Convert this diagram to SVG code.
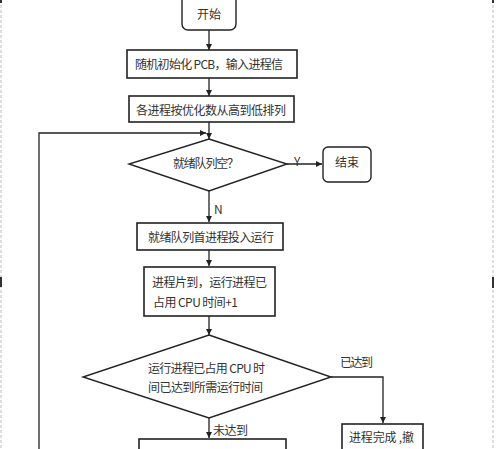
<svg xmlns="http://www.w3.org/2000/svg" width="500" height="449" viewBox="0 0 500 449">
<defs>
<marker id="ah" viewBox="0 0 8 8" refX="8" refY="4" markerWidth="6" markerHeight="6" markerUnits="userSpaceOnUse" orient="auto">
<path d="M0,0 L8,4 L0,8 z" fill="#222"/>
</marker>
<style>
.box{fill:#fff;stroke:#222;stroke-width:1.6}
.rbox{fill:#fff;stroke:#222;stroke-width:1.4}
.dia{fill:#fff;stroke:#222;stroke-width:1.4}
.t{font-family:"Noto Sans CJK SC","Liberation Sans",sans-serif;font-size:12px;fill:#333;text-anchor:middle}
.l{font-family:"Noto Sans CJK SC","Liberation Sans",sans-serif;font-size:12px;fill:#333}
.c{fill:none;stroke:#222;stroke-width:1.3}
.border{stroke:#bbb;stroke-width:1;stroke-dasharray:3 2;fill:none}
</style>
</defs>
<rect width="500" height="449" fill="#fff"/>
<g id="frame">
<line class="border" x1="1" y1="0" x2="1" y2="449"/>
<line class="border" x1="493" y1="0" x2="493" y2="449"/>
<rect x="0" y="0" width="2" height="3" fill="#333"/>
<rect x="0" y="277" width="2" height="10" fill="#333"/>
<rect x="492" y="0" width="2" height="3" fill="#333"/>
<rect x="492" y="277" width="2" height="11" fill="#333"/>
</g>
<g id="connectors">
<line class="c" x1="209" y1="30" x2="209" y2="50" marker-end="url(#ah)"/>
<line class="c" x1="209" y1="78" x2="209" y2="96" marker-end="url(#ah)"/>
<line class="c" x1="209" y1="122" x2="209" y2="139" marker-end="url(#ah)"/>
<polyline class="c" points="39,449 39,133 206,133" marker-end="url(#ah)"/>
<line class="c" x1="287" y1="164" x2="322" y2="164" marker-end="url(#ah)"/>
<line class="c" x1="209" y1="191" x2="209" y2="222" marker-end="url(#ah)"/>
<line class="c" x1="209" y1="250" x2="209" y2="266" marker-end="url(#ah)"/>
<line class="c" x1="209" y1="316" x2="209" y2="335" marker-end="url(#ah)"/>
<polyline class="c" points="331,377 383,377 383,423" marker-end="url(#ah)"/>
<line class="c" x1="209" y1="418" x2="209" y2="438" marker-end="url(#ah)"/>
<text class="l" x="294" y="166">Y</text>
<text class="l" x="214" y="214">N</text>
<text class="l" x="340" y="367" textLength="33">已达到</text>
<text class="l" x="213" y="435" textLength="35">未达到</text>
</g>
<g id="start">
<rect class="rbox" x="182" y="-6" width="54" height="36" rx="6"/>
<text class="t" x="209" y="19">开始</text>
</g>
<g id="init">
<rect class="box" x="127" y="50" width="170" height="28"/>
<text class="t" x="209" y="69" textLength="148">随机初始化 PCB，输入进程信</text>
</g>
<g id="sort">
<rect class="box" x="129" y="96" width="165" height="26"/>
<text class="t" x="211" y="115" textLength="150">各进程按优化数从高到低排列</text>
</g>
<g id="empty">
<polygon class="dia" points="209,139 287,164 209,191 129,164"/>
<text class="t" x="206" y="168" textLength="66">就绪队列空？</text>
</g>
<g id="end">
<rect class="rbox" x="323" y="147" width="48" height="35" rx="5"/>
<text class="t" x="347" y="167">结束</text>
</g>
<g id="run">
<rect class="box" x="137" y="223" width="146" height="27"/>
<text class="t" x="211" y="242" textLength="126">就绪队列首进程投入运行</text>
</g>
<g id="slice">
<rect class="box" x="144" y="267" width="131" height="49"/>
<text class="l" x="152" y="287" textLength="115">进程片到，运行进程已</text>
<text class="l" x="153" y="307" textLength="85">占用 CPU 时间+1</text>
</g>
<g id="check">
<polygon class="dia" points="209,335 331,377 209,418 83,377"/>
<text class="l" x="148" y="373" textLength="117">运行进程已占用 CPU 时</text>
<text class="l" x="148" y="392" textLength="115">间已达到所需运行时间</text>
</g>
<g id="next">
<rect class="box" x="139" y="439" width="147" height="20"/>
</g>
<g id="done">
<rect class="box" x="342" y="424" width="81" height="35"/>
<text class="l" x="349" y="442" textLength="65">进程完成 ,撤</text>
</g>
</svg>
